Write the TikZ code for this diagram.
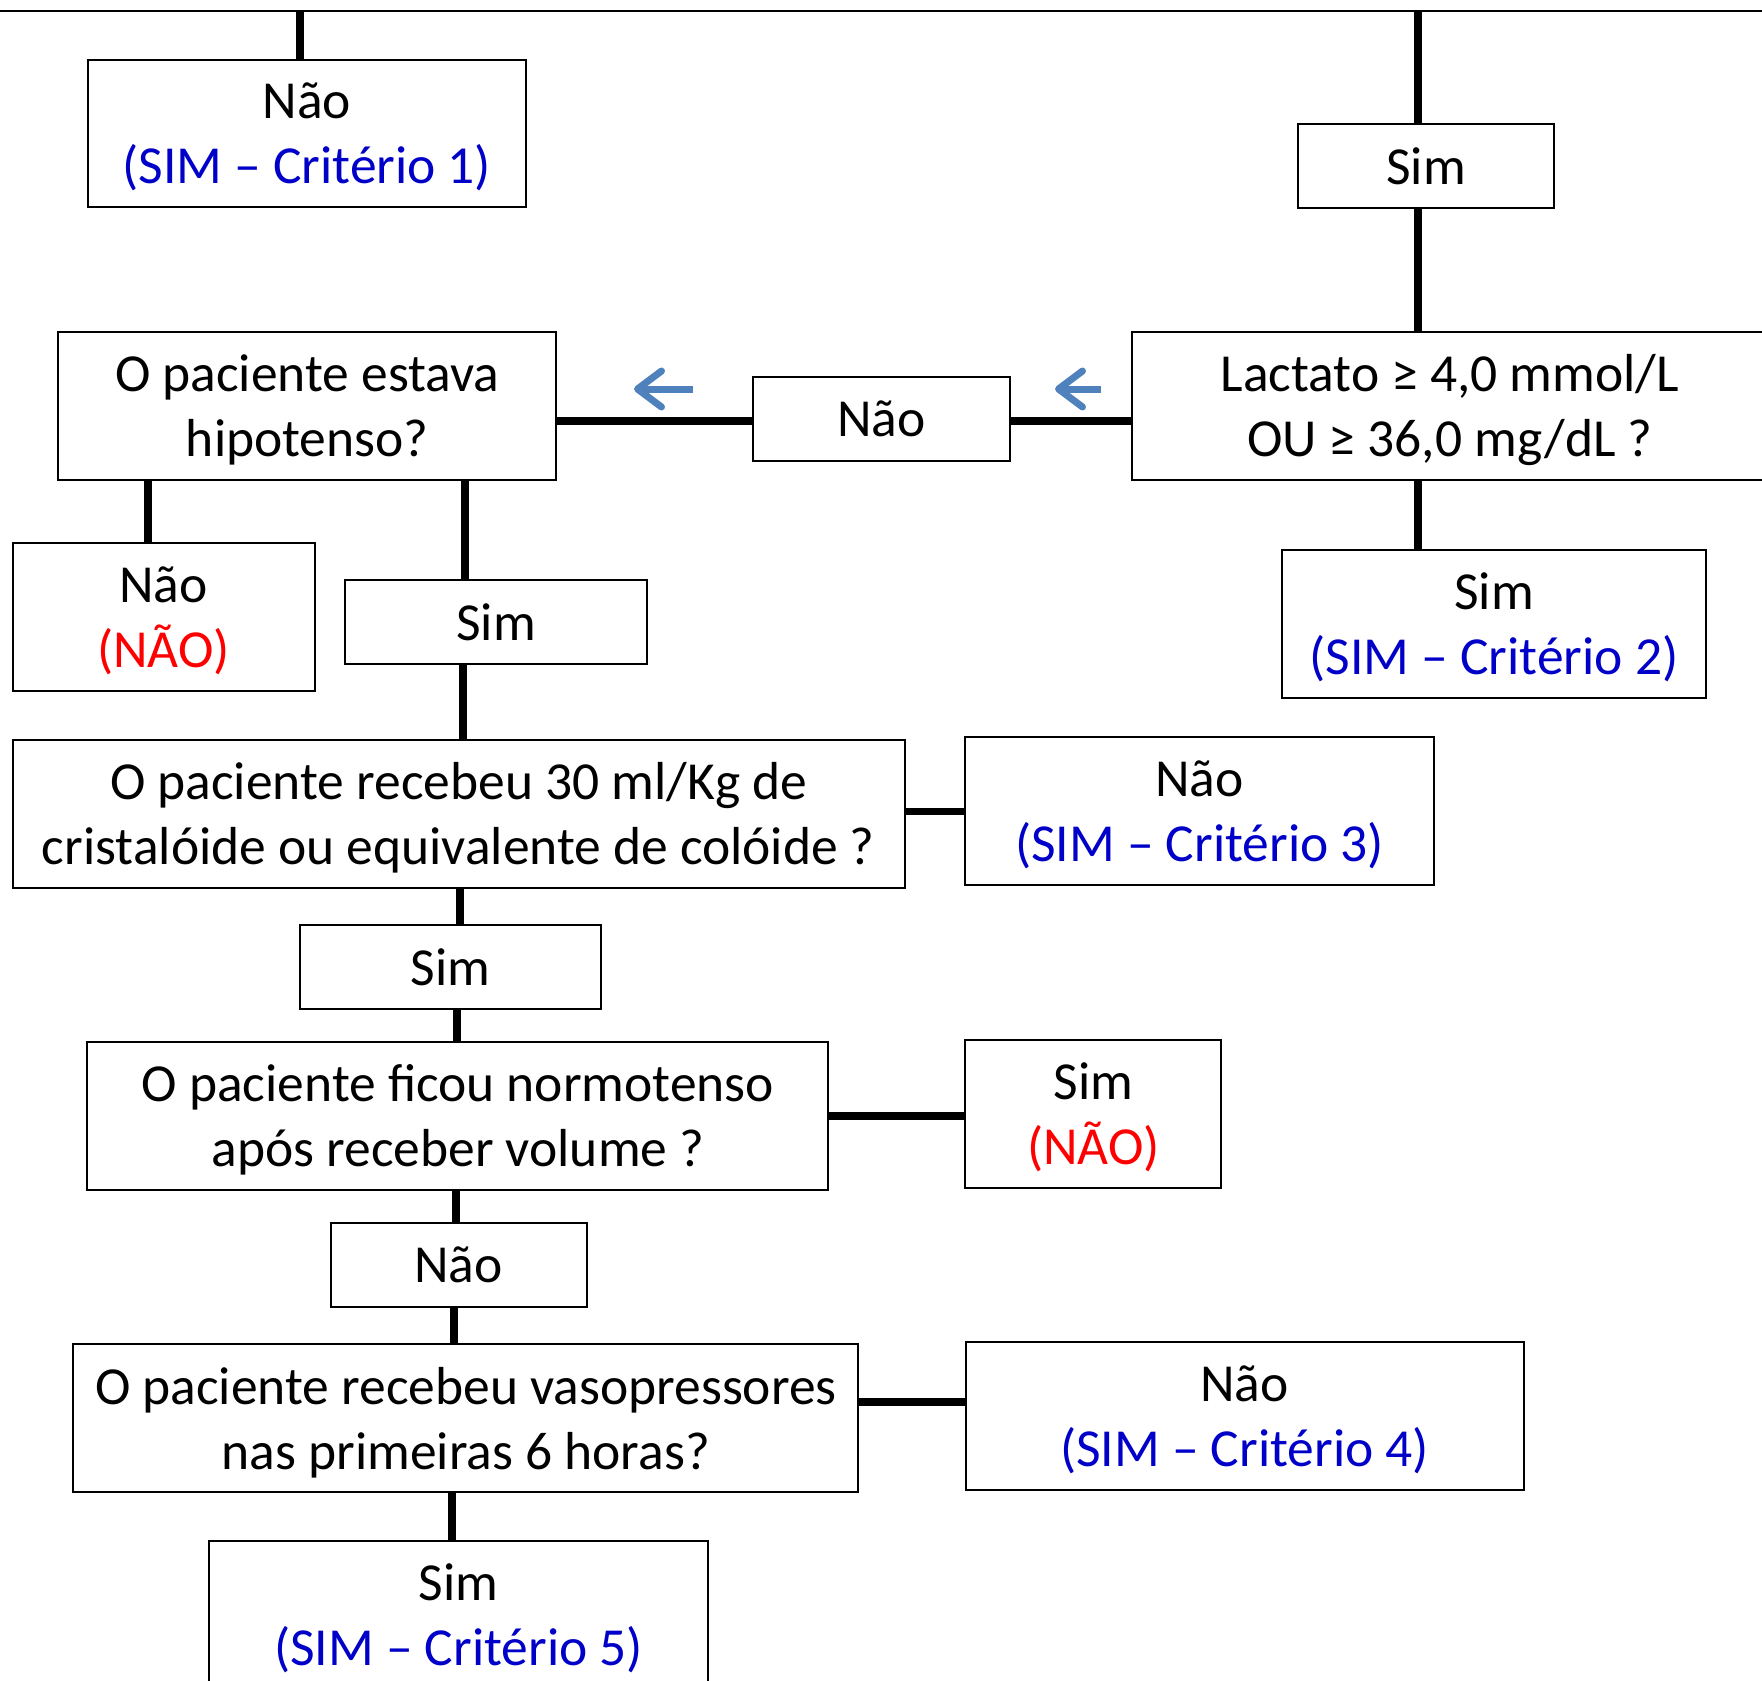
\documentclass[tikz,border=0pt]{standalone}
\usepackage{fontspec}
\setmainfont{Carlito}
\usetikzlibrary{arrows.meta}
\definecolor{critblue}{RGB}{0,0,200}
\definecolor{critred}{RGB}{255,0,0}
\definecolor{arrblue}{RGB}{79,129,189}
\tikzset{
  box/.style={draw=black, line width=2pt, fill=white, rectangle, inner sep=0pt, align=center,
    font=\fontsize{53.5}{65}\selectfont},
  twoline/.style={text depth=0pt},
  conn/.style={line width=7.5pt, draw=black},
  hint/.style={line width=7pt, draw=arrblue, -{Straight Barb[length=24pt,width=36pt,round]}},
}
\newcommand{\bl}[1]{\textcolor{critblue}{#1}}
\newcommand{\rd}[1]{\textcolor{critred}{#1}}
\begin{document}
\begin{tikzpicture}[x=1pt,y=-1pt]
\useasboundingbox (0,0) rectangle (1762,1681);
% nodes
\node[box, twoline, minimum width=438pt, minimum height=147pt] (n1) at (306.8,133.2) {Não\\\bl{(SIM – Critério 1)}};
\node[box, minimum width=256pt, minimum height=84pt] (n2) at (1426,165.8) {Sim};
\node[box, twoline, minimum width=498pt, minimum height=148pt] (n3) at (307.3,405.7) {O paciente estava\\hipotenso?};
\node[box, minimum width=257pt, minimum height=84pt] (n4) at (881.6,418.6) {Não};
\node[box, twoline, minimum width=636pt, minimum height=148pt] (n5) at (1449.8,405.7) {Lactato ≥ 4,0 mmol/L\\OU ≥ 36,0 mg/dL ?};
\node[box, twoline, minimum width=302pt, minimum height=148pt] (n6) at (163.5,616.9) {Não\\\rd{(NÃO)}};
\node[box, minimum width=302pt, minimum height=84pt] (n7) at (496.2,622) {Sim};
\node[box, twoline, minimum width=424pt, minimum height=148pt] (n8) at (1494,623.7) {Sim\\\bl{(SIM – Critério 2)}};
\node[box, twoline, minimum width=892pt, minimum height=148pt] (n9) at (458.5,813.6) {O paciente recebeu 30 ml/Kg de\\cristalóide ou equivalente de colóide ?};
\node[box, twoline, minimum width=469pt, minimum height=148pt] (n10) at (1199.6,811.3) {Não\\\bl{(SIM – Critério 3)}};
\node[box, minimum width=301pt, minimum height=84pt] (n11) at (450.6,967) {Sim};
\node[box, twoline, minimum width=741pt, minimum height=148pt] (n12) at (457.9,1115.9) {O paciente ficou normotenso\\após receber volume ?};
\node[box, twoline, minimum width=256pt, minimum height=148pt] (n13) at (1093.4,1113.6) {Sim\\\rd{(NÃO)}};
\node[box, minimum width=256pt, minimum height=84pt] (n14) at (458.5,1264.8) {Não};
\node[box, twoline, minimum width=785pt, minimum height=148pt] (n15) at (465.8,1418.2) {O paciente recebeu vasopressores\\nas primeiras 6 horas?};
\node[box, twoline, minimum width=558pt, minimum height=148pt] (n16) at (1244.6,1415.9) {Não\\\bl{(SIM – Critério 4)}};
\node[box, twoline, minimum width=499pt, minimum height=148pt] (n17) at (458.5,1614.8) {Sim\\\bl{(SIM – Critério 5)}};
% top line
\coordinate (tl) at (0,11);
\coordinate (tr) at (1762,11);
\draw[line width=2.5pt] (tl) -- (tr);
\coordinate (t1) at (300,11);
\coordinate (t2) at (1418,11);
\draw[conn] (t1) -- (t1 |- n1.north);
\draw[conn] (t2) -- (t2 |- n2.north);
\draw[conn] (n2.south -| t2) -- (n5.north -| t2);
\draw[conn] (n5.south -| t2) -- (n8.north -| t2);
% horizontal Não
\coordinate (r4) at (0,421);
\draw[conn] (n4.west |- r4) -- (n3.east |- r4);
\draw[conn] (n4.east |- r4) -- (n5.west |- r4);
% blue arrows
\coordinate (a1s) at (693,389);
\coordinate (a1e) at (634,389);
\coordinate (a2s) at (1101,389);
\coordinate (a2e) at (1055,389);
\draw[hint] (a1s) -- (a1e);
\draw[hint] (a2s) -- (a2e);
% left column
\coordinate (c6) at (148,0);
\draw[conn] (n3.south -| c6) -- (n6.north -| c6);
\coordinate (c7) at (465,0);
\draw[conn] (n3.south -| c7) -- (n7.north -| c7);
\coordinate (c9) at (463,0);
\draw[conn] (n7.south -| c9) -- (n9.north -| c9);
\draw[conn] (n9.east |- n10.west) -- (n10.west);
\coordinate (c11) at (460,0);
\draw[conn] (n9.south -| c11) -- (n11.north -| c11);
\coordinate (c12) at (457,0);
\draw[conn] (n11.south -| c12) -- (n12.north -| c12);
\draw[conn] (n12.east) -- (n12.east -| n13.west);
\coordinate (c14) at (456,0);
\draw[conn] (n12.south -| c14) -- (n14.north -| c14);
\coordinate (c15) at (454,0);
\draw[conn] (n14.south -| c15) -- (n15.north -| c15);
\coordinate (r16) at (0,1402);
\draw[conn] (n15.east |- r16) -- (n16.west |- r16);
\coordinate (c17) at (452,0);
\draw[conn] (n15.south -| c17) -- (n17.north -| c17);
\end{tikzpicture}
\end{document}
